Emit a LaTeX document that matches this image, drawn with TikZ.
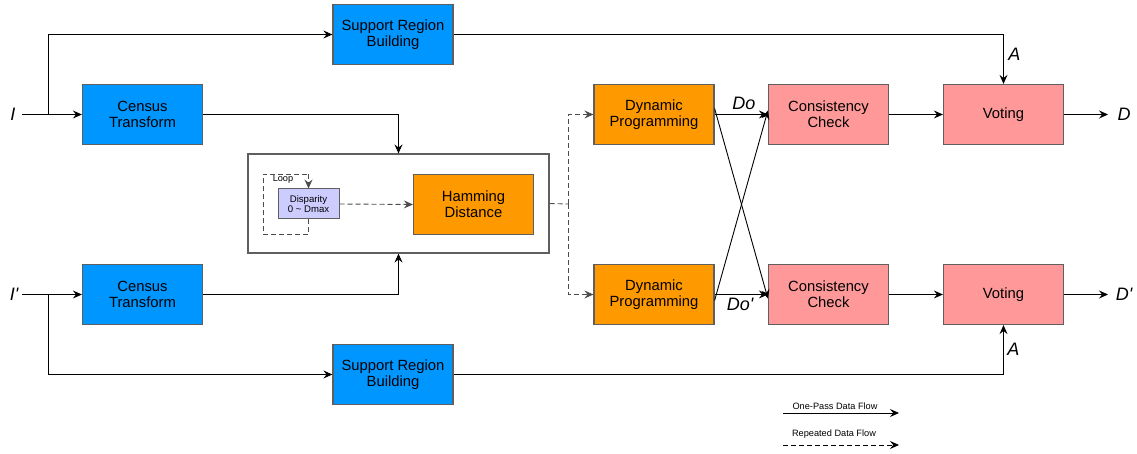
\documentclass[tikz,border=0pt]{standalone}
\usepackage{fontspec}
\setmainfont{Liberation Sans}
\usetikzlibrary{arrows.meta}
\definecolor{cblue}{RGB}{0,150,255}
\definecolor{corange}{RGB}{255,153,0}
\definecolor{cpink}{RGB}{255,153,153}
\definecolor{clav}{RGB}{204,204,255}
\definecolor{cborder}{RGB}{95,95,95}
\begin{document}
\begin{tikzpicture}[x=0.5pt,y=-0.5pt,
  box/.style={draw=cborder,line width=0.6pt,minimum width=60pt,minimum height=30pt,inner sep=0pt,align=center,font=\fontsize{7.4}{8}\selectfont},
  bluebox/.style={box,fill=cblue},
  orbox/.style={box,fill=corange},
  pinkbox/.style={box,fill=cpink},
  flow/.style={line width=0.45pt,-{Stealth[length=4.5pt,width=4pt,inset=1.6pt]}},
  rep/.style={flow,dashed,dash pattern=on 2.5pt off 1.5pt,draw=black!70},
  lbl/.style={font=\fontsize{9}{10}\selectfont\itshape,inner sep=0pt}]
\useasboundingbox (0,0) rectangle (1137,454);
% nodes
\node[bluebox] (srb1) at (393,34.5) {Support Region\\Building};
\node[bluebox] (ct1) at (142.5,114.5) {Census\\Transform};
\node[bluebox] (ct2) at (142.5,294.5) {Census\\Transform};
\node[bluebox] (srb2) at (393,374.5) {Support Region\\Building};
\node[draw=cborder,line width=0.6pt,minimum width=150.5pt,minimum height=49.5pt,inner sep=0pt] (big) at (398.5,203.5) {};
\node[draw=cborder,fill=clav,line width=0.5pt,minimum width=30.5pt,minimum height=15pt,inner sep=0pt,align=center,font=\fontsize{4.8}{5.4}\selectfont] (disp) at (308.5,204) {Disparity\\0 \textasciitilde{} Dmax};
\node[orbox] (ham) at (473.5,204.5) {Hamming\\Distance};
\node[orbox] (dp1) at (654,114.5) {Dynamic\\Programming};
\node[orbox] (dp2) at (654,294.5) {Dynamic\\Programming};
\node[pinkbox] (cc1) at (828.5,114.5) {Consistency\\Check};
\node[pinkbox] (cc2) at (828.5,294.5) {Consistency\\Check};
\node[pinkbox] (v1) at (1003.5,114.5) {Voting};
\node[pinkbox] (v2) at (1003.5,294.5) {Voting};
% labels
\node[lbl] (I) at (13,114) {I};
\node[lbl] (Ip) at (14,294) {I\textquotesingle};
\node[lbl] (D) at (1124,114) {D};
\node[lbl] (Dp) at (1124,294) {D\textquotesingle};
\node[lbl,anchor=west] (A1) at (1008,54) {A};
\node[lbl,anchor=west] (A2) at (1007,349) {A};
\node[lbl] (Do) at (744,103) {Do};
\node[lbl] (Dop) at (740,304) {Do\textquotesingle};
\node[font=\fontsize{4.6}{5}\selectfont,inner sep=0pt] (loop) at (283,179) {Loop};
% coordinates
\coordinate (si1) at (22,114.5);
\coordinate (si2) at (22,294.5);
\coordinate (j1) at (48,114.5);
\coordinate (j2) at (48,294.5);
\coordinate (split) at (568,204);
% inputs
\draw[flow] (si1) -- (ct1.west);
\draw[flow] (si2) -- (ct2.west);
\draw[flow] (j1) |- (srb1.west);
\draw[flow] (j2) |- (srb2.west);
\draw[flow] (ct1.east) -| (big.north);
\draw[flow] (ct2.east) -| (big.south);
% support to voting
\draw[flow] (srb1.east) -| (v1.north);
\draw[flow] (srb2.east) -| (v2.south);
% inner
\draw[rep] (disp.east) -- (ham.west);
\draw[rep,-] (disp.south) -- ++(0,15) -| (263,174) -- (308.5,174);
\draw[rep] (308.5,174) -- (disp.north);
% repeated out
\draw[rep,-] (big.east) -- (split);
\draw[rep] (split) |- (dp1.west);
\draw[rep] (split) |- (dp2.west);
% DP to CC
\draw[flow] (dp1.east) -- (cc1.west);
\draw[flow] (dp2.east) -- (cc2.west);
\draw[flow] ([yshift=3pt]dp1.east) -- ([yshift=-2pt]cc2.west);
\draw[flow] ([yshift=-3pt]dp2.east) -- ([yshift=2pt]cc1.west);
% CC to voting
\draw[flow] (cc1.east) -- (v1.west);
\draw[flow] (cc2.east) -- (v2.west);
\draw[flow] (v1.east) -- (1108,114.5);
\draw[flow] (v2.east) -- (1108,294.5);
% legend
\node[font=\fontsize{4.6}{5.2}\selectfont,inner sep=0pt] (leg1) at (835,406) {One-Pass Data Flow};
\node[font=\fontsize{4.6}{5.2}\selectfont,inner sep=0pt] (leg2) at (834,434) {Repeated Data Flow};
\coordinate (l1a) at (783,413);
\coordinate (l1b) at (899,413);
\coordinate (l2a) at (783,445);
\coordinate (l2b) at (899,445);
\draw[flow] (l1a) -- (l1b);
\draw[rep,draw=black] (l2a) -- (l2b);
\end{tikzpicture}
\end{document}
